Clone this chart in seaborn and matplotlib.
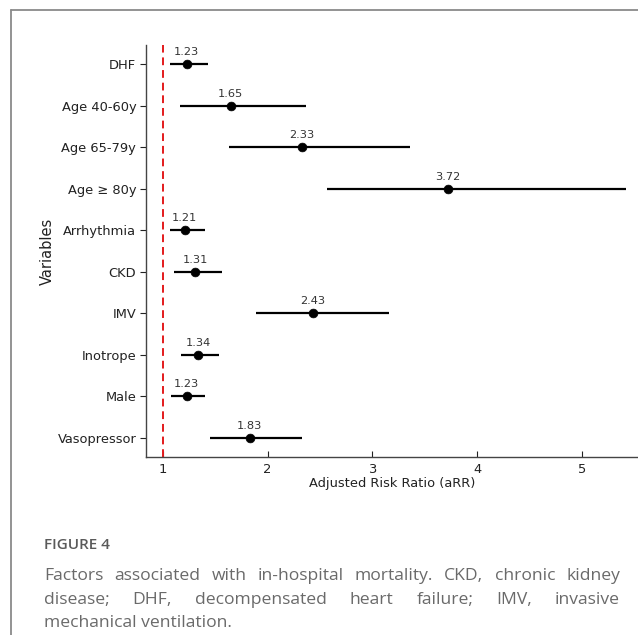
import matplotlib
matplotlib.use("Agg")
import matplotlib.pyplot as plt
from matplotlib.lines import Line2D
import seaborn as sns
import pandas as pd

variables = ["DHF", "Age 40-60y", "Age 65-79y", "Age \u2265 80y", "Arrhythmia",
             "CKD", "IMV", "Inotrope", "Male", "Vasopressor"]
arr = [1.23, 1.65, 2.33, 3.72, 1.21, 1.31, 2.43, 1.34, 1.23, 1.83]
ci_low = [1.07, 1.17, 1.63, 2.57, 1.07, 1.11, 1.89, 1.18, 1.08, 1.45]
ci_high = [1.43, 2.37, 3.36, 5.42, 1.40, 1.57, 3.16, 1.54, 1.40, 2.33]
reference = 1
x_ticks = [1, 2, 3, 4, 5]

caption_title = "FIGURE 4"
caption_lines = [
    "Factors associated with in-hospital mortality. CKD, chronic kidney",
    "disease; DHF, decompensated heart failure; IMV, invasive",
    "mechanical ventilation.",
]

df = pd.DataFrame({"Variable": variables, "aRR": arr, "low": ci_low, "high": ci_high})

sns.set_style("ticks")
plt.rcParams["font.family"] = ["DejaVu Sans"]

W, H = 638, 635
fig = plt.figure(figsize=(W / 100, H / 100), dpi=100)
ax = fig.add_axes([146 / W, 1 - 457 / H, (638 - 146) / W, (457 - 45) / H])

ax.hlines(y=df["Variable"], xmin=df["low"], xmax=df["high"], color="black", linewidth=1.6, zorder=2)
sns.scatterplot(data=df, x="aRR", y="Variable", ax=ax, color="black", s=40,
                edgecolor="black", linewidth=0.5, zorder=3, legend=False)
ax.axvline(reference, color="#e31a1c", linestyle=(0, (4, 2.5)), linewidth=1.4, zorder=1)

for v, a in zip(variables, arr):
    ax.annotate(f"{a:.2f}", xy=(a, v), xytext=(0, 5), textcoords="offset points",
                ha="center", va="bottom", fontsize=8.2, color="#333333")

ax.set_xlim(0.842, 5.53)
ax.set_ylim(len(variables) - 0.54, -0.46)
ax.set_xticks(x_ticks)
ax.set_xticklabels([str(t) for t in x_ticks])
ax.set_xlabel("Adjusted Risk Ratio (aRR)", fontsize=9.4, color="#222222", labelpad=1)
ax.set_ylabel("Variables", fontsize=10.5, color="#222222", labelpad=2)
ax.tick_params(axis="x", direction="in", length=4, width=0.8, labelsize=9.4, pad=4, colors="#222222")
ax.tick_params(axis="y", direction="out", length=4, width=0.8, labelsize=9.4, pad=3, colors="#222222")
for side in ["top", "right"]:
    ax.spines[side].set_visible(False)
for side in ["left", "bottom"]:
    ax.spines[side].set_color("#444444")
    ax.spines[side].set_linewidth(1.0)

# border of the figure panel
fig.add_artist(Line2D([11 / W, 11 / W], [0, 1 - 10 / H], transform=fig.transFigure,
                      color="#8a8a8a", linewidth=1.3))
fig.add_artist(Line2D([11 / W, 1], [1 - 10 / H, 1 - 10 / H], transform=fig.transFigure,
                      color="#8a8a8a", linewidth=1.3))

# caption
cap_font = ["Open Sans", "DejaVu Sans"]
cap_size = 12.6
cap_color = "#6a6a6a"
fig.text(44 / W, 1 - 545 / H, caption_title, fontsize=11, fontweight="semibold",
         color="#5a5a5a", family=cap_font, va="center", ha="left")

x_left, x_right = 44, 620
line_y = [576, 600, 623]
renderer = fig.canvas.get_renderer()
for i, (line, yy) in enumerate(zip(caption_lines, line_y)):
    words = line.split(" ")
    if i == len(caption_lines) - 1:
        fig.text(x_left / W, 1 - yy / H, line, fontsize=cap_size, color=cap_color,
                 family=cap_font, va="center", ha="left")
        continue
    texts = [fig.text(0, 1 - yy / H, w, fontsize=cap_size, color=cap_color,
                      family=cap_font, va="center", ha="left") for w in words]
    widths = [t.get_window_extent(renderer).width for t in texts]
    gap = (x_right - x_left - sum(widths)) / (len(words) - 1)
    cur = x_left
    for t, wdt in zip(texts, widths):
        t.set_x(cur / W)
        cur += wdt + gap

fig.savefig("out.png", dpi=100)
